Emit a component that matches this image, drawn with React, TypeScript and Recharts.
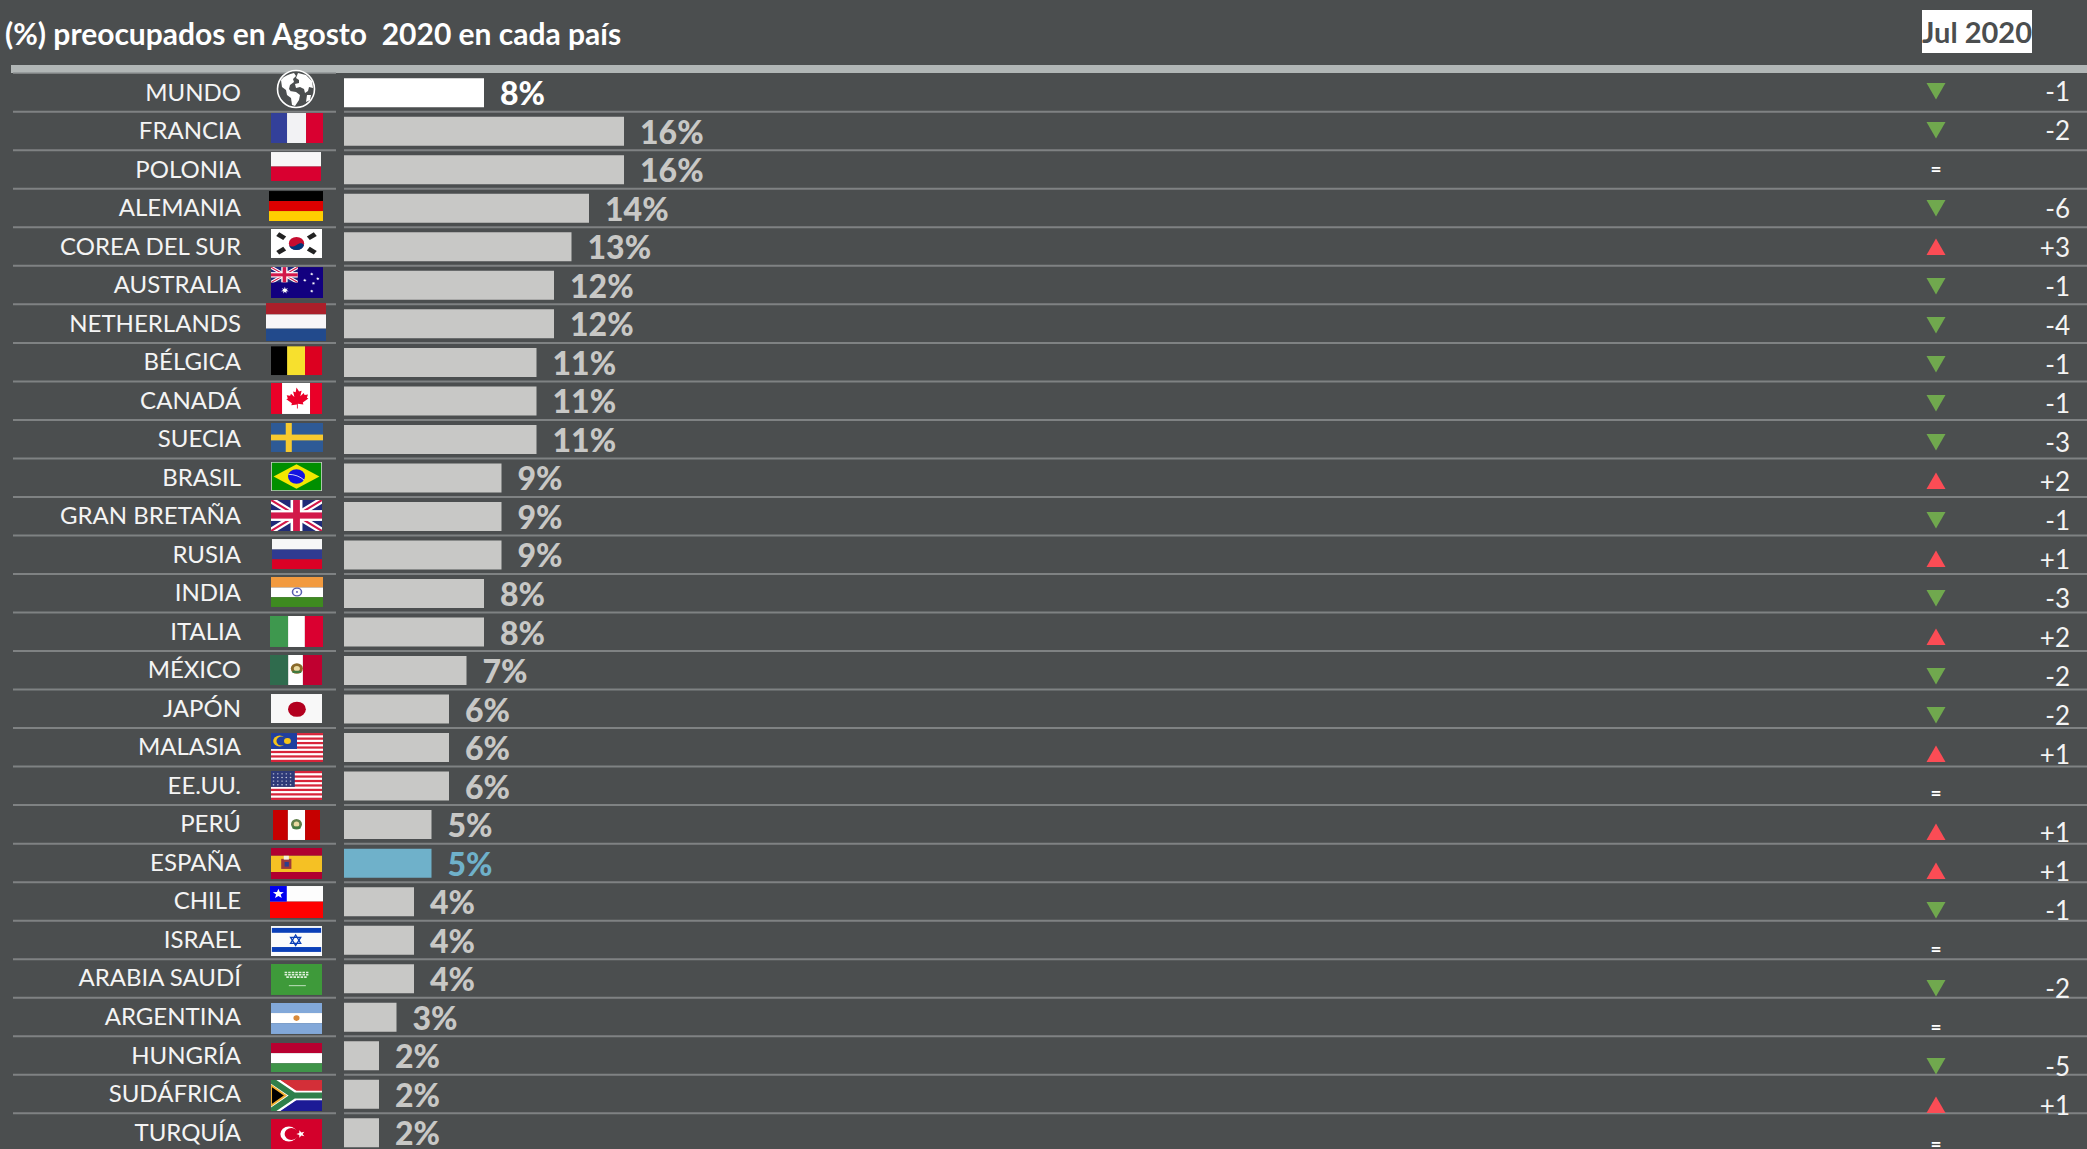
import { Bar, BarChart, Cell, LabelList, XAxis, YAxis } from "recharts";

const countries = [
  "MUNDO", "FRANCIA", "POLONIA", "ALEMANIA", "COREA DEL SUR", "AUSTRALIA", "NETHERLANDS",
  "BÉLGICA", "CANADÁ", "SUECIA", "BRASIL", "GRAN BRETAÑA", "RUSIA", "INDIA", "ITALIA",
  "MÉXICO", "JAPÓN", "MALASIA", "EE.UU.", "PERÚ", "ESPAÑA", "CHILE", "ISRAEL",
  "ARABIA SAUDÍ", "ARGENTINA", "HUNGRÍA", "SUDÁFRICA", "TURQUÍA",
];
const values = [8, 16, 16, 14, 13, 12, 12, 11, 11, 11, 9, 9, 9, 8, 8, 7, 6, 6, 6, 5, 5, 4, 4, 4, 3, 2, 2, 2];
const changes = [
  "-1", "-2", "=", "-6", "+3", "-1", "-4", "-1", "-1", "-3", "+2", "-1", "+1", "-3", "+2",
  "-2", "-2", "+1", "=", "+1", "+1", "-1", "=", "-2", "=", "-5", "+1", "=",
];

const rows = countries.map((country, i) => ({ country, value: values[i], change: changes[i] }));

const BG = "#4b4e4f";
const GRID = "#7f8283";
const BAR = "#c8c8c6";
const SPAIN = "#6fb1ca";
const FONT = "Lato, sans-serif";

// left, offset from row centre, width, height of each little flag picture
const flagBoxes: Record<string, number[]> = {
  FRANCIA: [271, -18, 52, 30], POLONIA: [271, -17.5, 50, 29], ALEMANIA: [269, -17, 54, 30],
  "COREA DEL SUR": [271, -17.6, 51, 29], AUSTRALIA: [271, -18, 52, 31], NETHERLANDS: [266, -20.6, 60, 38],
  "BÉLGICA": [271, -16, 51, 29], "CANADÁ": [271, -17.7, 51, 31], SUECIA: [271, -16.2, 52, 29],
  BRASIL: [271, -15.7, 51, 29], "GRAN BRETAÑA": [271, -16.2, 51, 31], RUSIA: [272, -15.7, 50, 30],
  INDIA: [271, -16.3, 52, 30], ITALIA: [270, -15.8, 53, 31], "MÉXICO": [270, -15.3, 52, 30],
  "JAPÓN": [271, -14.8, 51, 29], MALASIA: [271, -14.3, 52, 29], "EE.UU.": [271, -14.9, 51, 29],
  "PERÚ": [273, -14.4, 47, 30], "ESPAÑA": [271, -14.9, 51, 31], CHILE: [270, -15.4, 53, 32],
  ISRAEL: [271, -13.9, 51, 30], "ARABIA SAUDÍ": [271, -14.5, 51, 31], ARGENTINA: [271, -14, 51, 31],
  "HUNGRÍA": [271, -12.5, 51, 29], "SUDÁFRICA": [271, -14, 51, 31], "TURQUÍA": [271, -13.5, 51, 30],
};

const starPoints = (cx: number, cy: number, r: number, n = 5) =>
  Array.from({ length: n * 2 }, (_, i) => {
    const a = (Math.PI * i) / n - Math.PI / 2;
    const d = i % 2 ? r * 0.42 : r;
    return `${cx + d * Math.cos(a)},${cy + d * Math.sin(a)}`;
  }).join(" ");

const VBands = ({ c, s }: { c: string[]; s: number[] }) => {
  let x = 0;
  return (
    <>
      {c.map((col, i) => {
        const r = <rect key={i} x={x} y={0} width={s[i]} height={40} fill={col} />;
        x += s[i];
        return r;
      })}
    </>
  );
};
const HBands = ({ c, s }: { c: string[]; s: number[] }) => {
  let y = 0;
  return (
    <>
      {c.map((col, i) => {
        const r = <rect key={i} x={0} y={y} width={60} height={s[i]} fill={col} />;
        y += s[i];
        return r;
      })}
    </>
  );
};
const Stripes = ({ w = 60 }: { w?: number }) => (
  <>
    <rect width={60} height={40} fill="#fff" />
    {[0, 1, 2, 3, 4, 5, 6].map((i) => (
      <rect key={i} x={0} y={i * 6.15} width={w} height={3.1} fill="#d8243a" />
    ))}
  </>
);
const Union = () => (
  <>
    <rect width={60} height={40} fill="#1f2a78" />
    <path d="M0 0L60 40M60 0L0 40" stroke="#fff" strokeWidth={8} />
    <path d="M0 0L60 40M60 0L0 40" stroke="#d2184a" strokeWidth={2.6} />
    <rect x={23} y={0} width={14} height={40} fill="#fff" />
    <rect x={0} y={13} width={60} height={14} fill="#fff" />
    <rect x={26} y={0} width={8} height={40} fill="#d2184a" />
    <rect x={0} y={16} width={60} height={8} fill="#d2184a" />
  </>
);
const Emblem = ({ cx, cy, c = "#8a6a2a" }: { cx: number; cy: number; c?: string }) => (
  <>
    <circle cx={cx} cy={cy} r={7} fill={c} />
    <circle cx={cx} cy={cy} r={3.5} fill="#e9d9a0" />
    <rect x={cx - 5} y={cy + 3} width={10} height={3} fill="#3f7a3f" />
  </>
);

const flagArt: Record<string, JSX.Element> = {
  FRANCIA: <VBands c={["#33409a", "#f2f2f4", "#d90030"]} s={[18.5, 22, 19.5]} />,
  POLONIA: <HBands c={["#f7f7f7", "#d90030"]} s={[20, 20]} />,
  ALEMANIA: <HBands c={["#000", "#dd0000", "#ffce00"]} s={[13.3, 13.4, 13.3]} />,
  "COREA DEL SUR": (
    <>
      <rect width={60} height={40} fill="#fff" />
      <circle cx={30} cy={20} r={9} fill="#c60c30" />
      <path d="M21.2 22a9 9 0 0 0 17.6 0c-2-3-5-3-8.8 0s-6.8 3-8.8-0z" fill="#003478" />
      {[[12, 10, 35], [48, 10, -35], [12, 30, -35], [48, 30, 35]].map(([x, y, a], i) => (
        <rect key={i} x={x - 5} y={y - 3} width={10} height={6} fill="#222" transform={`rotate(${a} ${x} ${y})`} />
      ))}
    </>
  ),
  AUSTRALIA: (
    <>
      <rect width={60} height={40} fill="#12007f" />
      <svg x={0} y={0} width={31} height={20} viewBox="0 0 60 40" preserveAspectRatio="none">
        <Union />
      </svg>
      <polygon points={starPoints(16, 30, 4.6, 7)} fill="#fff" />
      {[[47, 9], [39, 17], [54, 15], [49, 21], [47, 31]].map(([x, y], i) => (
        <polygon key={i} points={starPoints(x, y, 2.2, 7)} fill="#fff" />
      ))}
    </>
  ),
  NETHERLANDS: <HBands c={["#ab1f2a", "#f8f6f8", "#224a8c"]} s={[12, 15, 13]} />,
  "BÉLGICA": <VBands c={["#000", "#f7e02d", "#dc0020"]} s={[19, 21, 20]} />,
  "CANADÁ": (
    <>
      <VBands c={["#ea0028", "#fff", "#ea0028"]} s={[13, 33, 14]} />
      <path
        d="M30 6l3 5 3-1-1.5 7 4-4 1 2.5 4-.7-1.3 4.2 1.8 1-6.6 5.3.7 2.4-6.6-.8V33h-1v-5.1l-6.6.8.7-2.4-6.6-5.3 1.8-1-1.3-4.2 4 .7 1-2.5 4 4-1.5-7 3 1z"
        fill="#ea0028"
      />
    </>
  ),
  SUECIA: (
    <>
      <rect width={60} height={40} fill="#2e5a96" />
      <rect x={17} y={0} width={7} height={40} fill="#f7c92e" />
      <rect x={0} y={16} width={60} height={8} fill="#f7c92e" />
    </>
  ),
  BRASIL: (
    <>
      <rect width={60} height={40} fill="#c9cfc9" />
      <rect x={1} y={1} width={58} height={38} fill="#008f00" />
      <polygon points="3,20 30,3 57,20 30,37" fill="#f3e800" />
      <circle cx={30} cy={20} r={10} fill="#1414e0" />
      <path d="M20.5 17c7 0 14 3 18.5 8" stroke="#fff" strokeWidth={1} fill="none" />
    </>
  ),
  "GRAN BRETAÑA": <Union />,
  RUSIA: <HBands c={["#f7f7f7", "#2f3b91", "#da0025"]} s={[14, 13, 13]} />,
  INDIA: (
    <>
      <HBands c={["#f29a3f", "#fff", "#3e8a20"]} s={[14, 13, 13]} />
      <circle cx={30} cy={20} r={5.2} fill="#fff" stroke="#5a5fb0" strokeWidth={1.8} />
      <circle cx={30} cy={20} r={1.2} fill="#5a5fb0" />
    </>
  ),
  ITALIA: <VBands c={["#3e984e", "#fff", "#da0030"]} s={[20.5, 19, 20.5]} />,
  "MÉXICO": (
    <>
      <VBands c={["#2f6b4d", "#fff", "#c00030"]} s={[21, 17, 22]} />
      <Emblem cx={31} cy={18} />
    </>
  ),
  "JAPÓN": (
    <>
      <rect width={60} height={40} fill="#f8f8f8" />
      <circle cx={30.5} cy={21} r={10.5} fill="#b3001f" />
    </>
  ),
  MALASIA: (
    <>
      <Stripes />
      <rect width={30} height={22} fill="#1f3f9f" />
      <circle cx={10} cy={11} r={7.5} fill="#f5c518" />
      <circle cx={12.5} cy={11} r={6.2} fill="#1f3f9f" />
      <circle cx={19} cy={11} r={4} fill="#f5c518" />
    </>
  ),
  "EE.UU.": (
    <>
      <Stripes />
      <rect width={28} height={22} fill="#2e3a78" />
      {[3, 8, 13, 18, 23].map((x) =>
        [4, 9, 14, 19].map((y) => <circle key={`${x}-${y}`} cx={x} cy={y} r={1} fill="#c5c8dc" />),
      )}
    </>
  ),
  "PERÚ": (
    <>
      <VBands c={["#c60000", "#fff", "#c60000"]} s={[19, 22, 19]} />
      <Emblem cx={30} cy={19} c="#5f7f4a" />
    </>
  ),
  "ESPAÑA": (
    <>
      <HBands c={["#b00030", "#f5c124", "#b00030"]} s={[10, 21, 9]} />
      <rect x={12} y={14} width={12} height={13} fill="#9c3a3a" />
      <rect x={15} y={10} width={6} height={5} fill="#f3efe0" />
      <rect x={16} y={18} width={5} height={6} fill="#2c3f8c" />
    </>
  ),
  CHILE: (
    <>
      <HBands c={["#fdfdfd", "#ff0000"]} s={[19.5, 20.5]} />
      <rect width={19} height={19.5} fill="#0000f0" />
      <polygon points={starPoints(9.5, 9.8, 6.5)} fill="#fff" />
    </>
  ),
  ISRAEL: (
    <>
      <rect width={60} height={40} fill="#fbfbfb" />
      <rect x={1} y={2.5} width={58} height={6.5} fill="#0a3fb8" />
      <rect x={1} y={28} width={58} height={6.5} fill="#0a3fb8" />
      <polygon points="29,12 35,23 23,23" fill="none" stroke="#0a3fb8" strokeWidth={1.6} />
      <polygon points="29,26 35,15 23,15" fill="none" stroke="#0a3fb8" strokeWidth={1.6} />
    </>
  ),
  "ARABIA SAUDÍ": (
    <>
      <rect width={60} height={40} fill="#3e9a3a" />
      <path d="M16 11h28M16 14h28M18 17h25" stroke="#dff0dc" strokeWidth={2} strokeDasharray="3 1.2" />
      <path d="M21 28h20" stroke="#dff0dc" strokeWidth={1} />
    </>
  ),
  ARGENTINA: (
    <>
      <HBands c={["#82a8d9", "#fff", "#82a8d9"]} s={[13, 13, 14]} />
      <circle cx={30} cy={19.5} r={3.6} fill="#d98a3a" />
    </>
  ),
  "HUNGRÍA": <HBands c={["#b80030", "#fff", "#3f9449"]} s={[14, 14, 12]} />,
  "SUDÁFRICA": (
    <>
      <rect width={60} height={20} fill="#d32f38" />
      <rect y={20} width={60} height={20} fill="#1c1a96" />
      <path d="M0 0L27 20L0 40" fill="#000" stroke="#fff" strokeWidth={13} />
      <path d="M0 0L27 20H60M27 20L0 40" fill="none" stroke="#fff" strokeWidth={12} />
      <path d="M0 0L27 20H60M27 20L0 40" fill="none" stroke="#2f7f4a" strokeWidth={7.5} />
      <path d="M0 7L17 20L0 33Z" fill="#000" stroke="#f0b030" strokeWidth={2.4} />
    </>
  ),
  "TURQUÍA": (
    <>
      <rect width={60} height={40} fill="#d3002b" />
      <circle cx={21} cy={20} r={10} fill="#fff" />
      <circle cx={24} cy={20} r={8} fill="#d3002b" />
      <polygon points={starPoints(35, 20, 5.2)} fill="#fff" transform="rotate(-18 35 20)" />
    </>
  ),
};

const Globe = ({ y }: { y: number }) => (
  <g transform={`translate(296 ${y - 3.5})`}>
    <circle r={18.5} fill={BG} stroke="#fff" strokeWidth={1.6} />
    <path
      d="M-15-9c3-4 8-6 13-7l2 3-3 3 1 3-4 3-1 4 3 4-1 5-4-3-1-5-4-3z M2-16l8 2 6 6 1 7-4-1-1 4-3 2-1-4-4-2-4 1-1-4 4-1 0-3-3-2z M-6 2l6 1 4 3-1 5-4 6-3-1-1-7z M11 6l4 0-1 5-4 2z"
      fill="#fff"
    />
  </g>
);

const LeftTick = (props: any) => {
  const { y, payload } = props;
  const name: string = payload.value;
  const box = flagBoxes[name];
  const half = 19.26;
  return (
    <g>
      {props.index === 0 && <line x1={13} x2={336} y1={y - half} y2={y - half} stroke={GRID} strokeWidth={1.5} />}
      <line x1={13} x2={336} y1={y + half} y2={y + half} stroke={GRID} strokeWidth={2} />
      <line x1={344} x2={2087} y1={y + half} y2={y + half} stroke={GRID} strokeWidth={2} />
      <text x={241} y={y + 8} textAnchor="end" fill="#f4f4f4" fontFamily={FONT} fontSize={24}>
        {name}
      </text>
      {box ? (
        <svg x={box[0]} y={y + box[1]} width={box[2]} height={box[3]} viewBox="0 0 60 40" preserveAspectRatio="none">
          {flagArt[name]}
        </svg>
      ) : (
        <Globe y={y} />
      )}
    </g>
  );
};

const ChangeTick = (props: any) => {
  const { y, payload } = props;
  const change = rows.find((r) => r.country === payload.value)?.change ?? "=";
  const cx = 1936;
  if (change === "=") {
    return (
      <text x={cx} y={y + 7} textAnchor="middle" fill="#fff" fontFamily={FONT} fontWeight={700} fontSize={19}>
        =
      </text>
    );
  }
  const up = change[0] === "+";
  const tri = up
    ? `${cx - 9.5},${y + 8} ${cx + 9.5},${y + 8} ${cx},${y - 8.5}`
    : `${cx - 9.5},${y - 8} ${cx + 9.5},${y - 8} ${cx},${y + 8.5}`;
  return (
    <g>
      <polygon points={tri} fill={up ? "#fb4c55" : "#70a84e"} />
      <text x={2070} y={y + 9.5} textAnchor="end" fill="#f4f4f4" fontFamily={FONT} fontSize={26}>
        {change}
      </text>
    </g>
  );
};

const valueLabel = (props: any) => {
  const { x, y, width, height, value, index } = props;
  const fill = index === 0 ? "#fff" : rows[index].country === "ESPAÑA" ? SPAIN : BAR;
  return (
    <text x={x + width + 16} y={y + height / 2 + 12.5} fill={fill} fontFamily={FONT} fontWeight={900} fontSize={32}>
      {value}%
    </text>
  );
};

const barColor = (country: string, i: number) => (i === 0 ? "#fff" : country === "ESPAÑA" ? SPAIN : BAR);

export default function App() {
  return (
    <div style={{ position: "absolute", left: 0, top: 0, width: 2087, height: 1149, overflow: "hidden", background: BG }}>
      <BarChart
        layout="vertical"
        width={2087}
        height={1164}
        data={rows}
        margin={{ top: 71.5, right: 0, bottom: 0.5, left: 0 }}
      >
        <rect x={11} y={65} width={2076} height={8} fill="#b1b6b6" />
        <text x={5} y={45} fill="#fff" fontFamily={FONT} fontWeight={700} fontSize={30} style={{ whiteSpace: "pre" }}>
          (%) preocupados en Agosto  2020 en cada país
        </text>
        <rect x={1922} y={10} width={110} height={43} fill="#fff" />
        <text x={1977} y={42.5} textAnchor="middle" fill={BG} fontFamily={FONT} fontWeight={700} fontSize={29}>
          Jul 2020
        </text>
        <XAxis type="number" domain={[0, 99.54]} hide />
        <YAxis
          yAxisId="rows"
          type="category"
          dataKey="country"
          width={344}
          interval={0}
          padding={{ top: 1.74, bottom: 11.7 }}
          axisLine={false}
          tickLine={false}
          tick={LeftTick}
        />
        <YAxis
          yAxisId="changes"
          orientation="right"
          type="category"
          dataKey="country"
          width={1}
          interval={0}
          axisLine={false}
          tickLine={false}
          tick={ChangeTick}
        />
        <Bar yAxisId="rows" dataKey="value" barSize={29} isAnimationActive={false}>
          {rows.map((r, i) => (
            <Cell key={r.country} fill={barColor(r.country, i)} />
          ))}
          <LabelList dataKey="value" content={valueLabel} />
        </Bar>
        <Bar yAxisId="changes" dataKey="value" barSize={1} fill="none" isAnimationActive={false} />
      </BarChart>
    </div>
  );
}
